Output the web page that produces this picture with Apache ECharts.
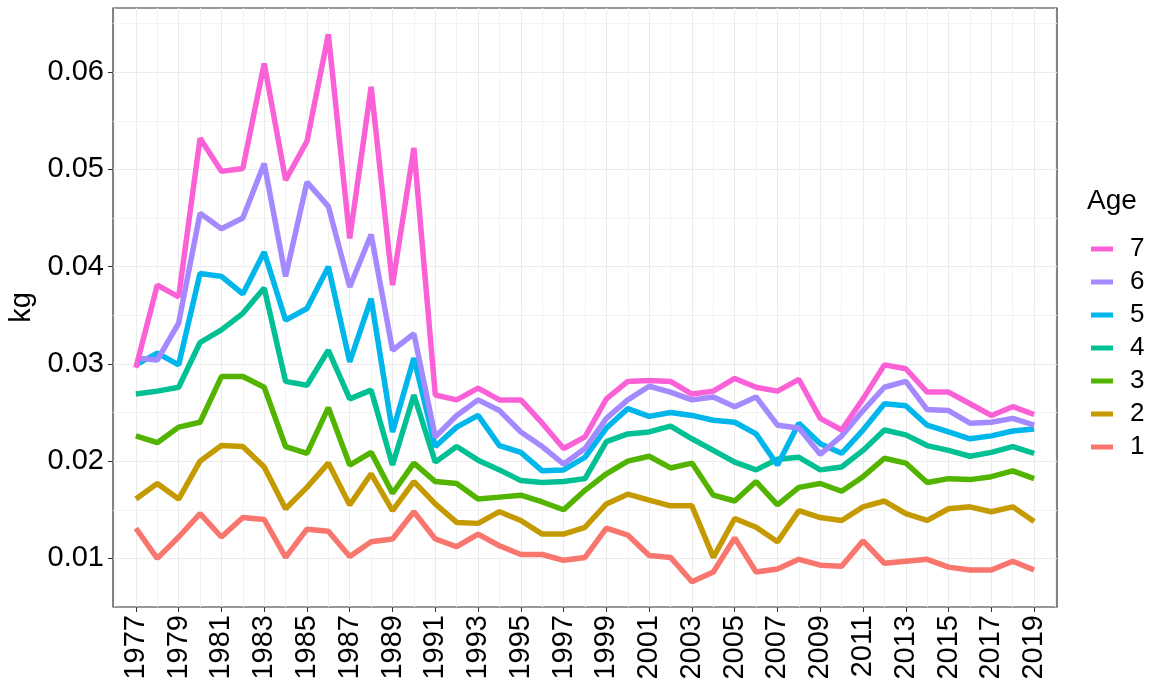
<!DOCTYPE html>
<html>
<head>
<meta charset="utf-8">
<script src="https://cdn.jsdelivr.net/npm/echarts@6/dist/echarts.min.js"></script>
<style>
    html, body { margin: 0; padding: 0; background: #fff; }
    #main { width: 1155px; height: 691px; }
</style>
</head>
<body>
<div id="main"></div>
<script>
var years = [];
for (var y = 1977; y <= 2019; y++) years.push(y);
var labelYears = years.filter(function (v) { return v % 2 === 1; });
var minorYears = [1976].concat(years.filter(function (v) { return v % 2 === 0; })).concat([2020]);
var yTicks = [0.01, 0.02, 0.03, 0.04, 0.05, 0.06];
var yMinor = [0.015, 0.025, 0.035, 0.045, 0.055, 0.065];

var ages = ['1', '2', '3', '4', '5', '6', '7'];
var colors = ['#F8766D', '#C49A00', '#53B400', '#00C094', '#00B6EB', '#A58AFF', '#FB61D7'];

var age1 = [0.0131, 0.0100, 0.0122, 0.0146, 0.0122, 0.0142, 0.0140, 0.0101, 0.0130, 0.0128,
            0.0102, 0.0117, 0.0120, 0.0148, 0.0120, 0.0112, 0.0125, 0.0113, 0.0104, 0.0104,
            0.0098, 0.0101, 0.0131, 0.0124, 0.0103, 0.0101, 0.0076, 0.0086, 0.0121, 0.0086,
            0.0089, 0.0099, 0.0093, 0.0092, 0.0118, 0.0095, 0.0097, 0.0099, 0.0091, 0.0088,
            0.0088, 0.0097, 0.0088];
var age2 = [0.0161, 0.0177, 0.0161, 0.0200, 0.0216, 0.0215, 0.0194, 0.0151, 0.0173, 0.0198,
            0.0155, 0.0187, 0.0149, 0.0179, 0.0156, 0.0137, 0.0136, 0.0148, 0.0139, 0.0125,
            0.0125, 0.0132, 0.0156, 0.0166, 0.0160, 0.0154, 0.0154, 0.0101, 0.0141, 0.0132,
            0.0117, 0.0149, 0.0142, 0.0139, 0.0153, 0.0159, 0.0146, 0.0139, 0.0151, 0.0153,
            0.0148, 0.0153, 0.0138];
var age3 = [0.0226, 0.0219, 0.0235, 0.0240, 0.0287, 0.0287, 0.0276, 0.0215, 0.0208, 0.0255,
            0.0196, 0.0209, 0.0167, 0.0198, 0.0179, 0.0177, 0.0161, 0.0163, 0.0165, 0.0158,
            0.0150, 0.0170, 0.0187, 0.0200, 0.0205, 0.0193, 0.0198, 0.0165, 0.0159, 0.0179,
            0.0155, 0.0173, 0.0177, 0.0169, 0.0184, 0.0203, 0.0198, 0.0178, 0.0182, 0.0181,
            0.0184, 0.0190, 0.0182];
var age4 = [0.0269, 0.0272, 0.0276, 0.0322, 0.0335, 0.0352, 0.0378, 0.0282, 0.0278, 0.0314,
            0.0264, 0.0273, 0.0196, 0.0268, 0.0199, 0.0215, 0.0201, 0.0191, 0.0180, 0.0178,
            0.0179, 0.0182, 0.0220, 0.0228, 0.0230, 0.0236, 0.0223, 0.0211, 0.0199, 0.0191,
            0.0202, 0.0204, 0.0191, 0.0194, 0.0211, 0.0232, 0.0227, 0.0216, 0.0211, 0.0205,
            0.0209, 0.0215, 0.0208];
var age5 = [0.0299, 0.0311, 0.0299, 0.0393, 0.0390, 0.0372, 0.0415, 0.0345, 0.0357, 0.0400,
            0.0302, 0.0367, 0.0230, 0.0306, 0.0215, 0.0235, 0.0247, 0.0216, 0.0209, 0.0190,
            0.0191, 0.0204, 0.0234, 0.0254, 0.0246, 0.0250, 0.0247, 0.0242, 0.0240, 0.0228,
            0.0196, 0.0239, 0.0218, 0.0208, 0.0232, 0.0259, 0.0257, 0.0237, 0.0230, 0.0223,
            0.0226, 0.0231, 0.0233];
var age6 = [0.0306, 0.0304, 0.0342, 0.0455, 0.0439, 0.0450, 0.0506, 0.0390, 0.0487, 0.0462,
            0.0379, 0.0433, 0.0314, 0.0331, 0.0225, 0.0247, 0.0263, 0.0252, 0.0230, 0.0215,
            0.0197, 0.0213, 0.0244, 0.0263, 0.0277, 0.0271, 0.0263, 0.0266, 0.0256, 0.0266,
            0.0237, 0.0234, 0.0207, 0.0226, 0.0252, 0.0276, 0.0282, 0.0253, 0.0252, 0.0239,
            0.0240, 0.0244, 0.0237];
var age7 = [0.0296, 0.0381, 0.0369, 0.0532, 0.0498, 0.0501, 0.0609, 0.0489, 0.0529, 0.0639,
            0.0429, 0.0585, 0.0381, 0.0522, 0.0268, 0.0263, 0.0275, 0.0263, 0.0263, 0.0239,
            0.0213, 0.0225, 0.0264, 0.0282, 0.0283, 0.0282, 0.0269, 0.0272, 0.0285, 0.0276,
            0.0272, 0.0284, 0.0244, 0.0232, 0.0264, 0.0299, 0.0295, 0.0271, 0.0271, 0.0259,
            0.0247, 0.0256, 0.0248];
var values = [age1, age2, age3, age4, age5, age6, age7];

var chart = echarts.init(document.getElementById('main'));

var series = [];
for (var i = 0; i < ages.length; i++) {
    var pts = [];
    for (var j = 0; j < years.length; j++) pts.push([years[j], values[i][j]]);
    series.push({
        name: ages[i],
        type: 'line',
        xAxisIndex: 0,
        yAxisIndex: 0,
        data: pts,
        symbol: 'none',
        lineStyle: { width: 5.5, color: colors[i] },
        itemStyle: { color: colors[i] }
    });
}

var font = 'Liberation Sans, Arial, sans-serif';

var option = {
    backgroundColor: '#fff',
    animation: false,
    color: colors,
    title: {
        text: 'Age',
        left: 1082,
        top: 182,
        textStyle: { fontSize: 28, fontWeight: 'normal', color: '#000', fontFamily: font }
    },
    legend: {
        orient: 'vertical',
        left: 1086,
        top: 231,
        data: ages.slice().reverse(),
        icon: 'rect',
        itemWidth: 22,
        itemHeight: 5,
        itemGap: 7,
        textStyle: { fontSize: 26, color: '#000', fontFamily: font, lineHeight: 24, padding: [0, 0, 0, 12] }
    },
    grid: {
        left: 113,
        right: 98,
        top: 8,
        bottom: 84,
        show: true,
        borderColor: '#333',
        borderWidth: 1.2,
        containLabel: false,
        outerBoundsMode: 'none'
    },
    xAxis: [{
        type: 'value',
        min: 1975.93,
        max: 2020.07,
        axisLine: { show: false },
        axisTick: { show: true, customValues: labelYears, length: 5, lineStyle: { color: '#333' } },
        axisLabel: {
            customValues: labelYears,
            rotate: 90,
            margin: 8,
            fontSize: 29,
            color: '#000',
            fontFamily: font,
            formatter: function (v) { return String(v); }
        },
        splitLine: { show: true, lineStyle: { color: '#ebebeb', width: 1 } }
    }, {
        type: 'value',
        min: 1975.93,
        max: 2020.07,
        axisLine: { show: false },
        axisTick: { show: false, customValues: minorYears },
        axisLabel: { show: false, customValues: minorYears },
        splitLine: { show: true, lineStyle: { color: '#f3f3f3', width: 1 } }
    }],
    yAxis: [{
        type: 'value',
        min: 0.005,
        max: 0.0666,
        name: 'kg',
        nameLocation: 'middle',
        nameGap: 76,
        nameRotate: 90,
        nameTextStyle: { fontSize: 29, color: '#000', fontFamily: font },
        axisLine: { show: false },
        axisTick: { show: true, customValues: yTicks, length: 5, lineStyle: { color: '#333' } },
        axisLabel: {
            customValues: yTicks,
            margin: 9,
            fontSize: 29,
            color: '#000',
            fontFamily: font,
            formatter: function (v) { return v.toFixed(2); }
        },
        splitLine: { show: true, lineStyle: { color: '#ebebeb', width: 1 } }
    }, {
        type: 'value',
        min: 0.005,
        max: 0.0666,
        position: 'left',
        axisLine: { show: false },
        axisTick: { show: false, customValues: yMinor },
        axisLabel: { show: false, customValues: yMinor },
        splitLine: { show: true, lineStyle: { color: '#f3f3f3', width: 1 } }
    }],
    series: series
};

chart.setOption(option);
</script>
</body>
</html>
